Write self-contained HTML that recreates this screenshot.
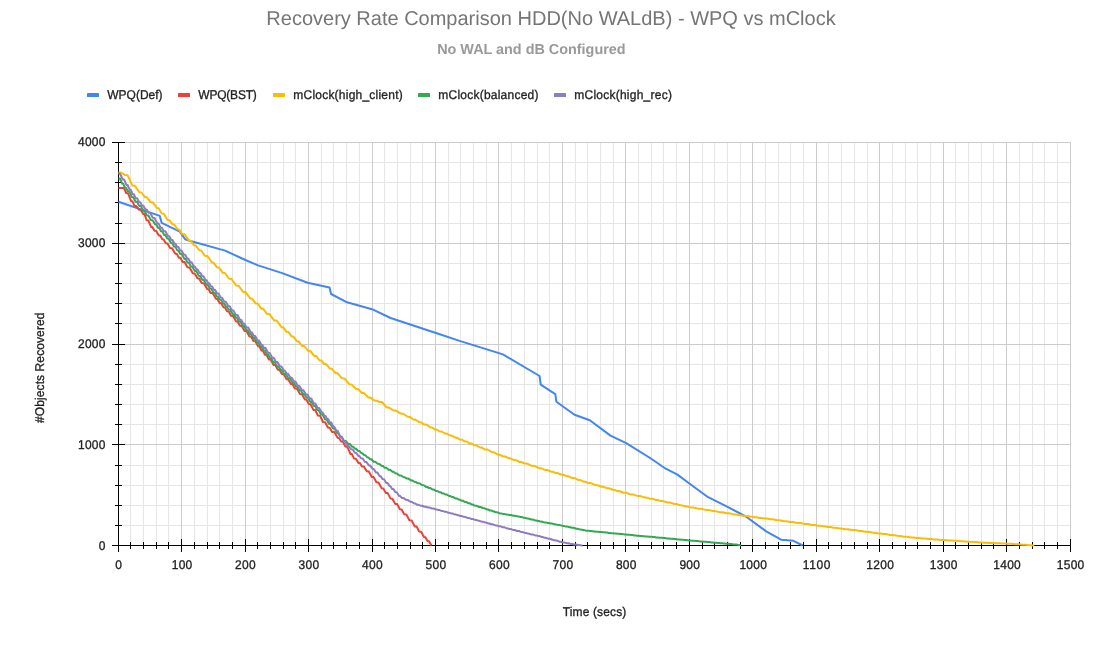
<!DOCTYPE html>
<html><head><meta charset="utf-8"><title>Recovery Rate Comparison</title>
<style>
html,body{margin:0;padding:0;background:#fff;}
svg{display:block;font-family:"Liberation Sans",sans-serif;will-change:transform;text-rendering:geometricPrecision;}
</style></head><body>
<svg width="1100" height="655" viewBox="0 0 1100 655">
<path d="M130.5 142V546M143.5 142V546M156.5 142V546M168.5 142V546M194.5 142V546M207.5 142V546M219.5 142V546M232.5 142V546M257.5 142V546M270.5 142V546M283.5 142V546M295.5 142V546M321.5 142V546M333.5 142V546M346.5 142V546M359.5 142V546M384.5 142V546M397.5 142V546M410.5 142V546M422.5 142V546M448.5 142V546M460.5 142V546M473.5 142V546M486.5 142V546M511.5 142V546M524.5 142V546M537.5 142V546M549.5 142V546M575.5 142V546M587.5 142V546M600.5 142V546M613.5 142V546M638.5 142V546M651.5 142V546M663.5 142V546M676.5 142V546M702.5 142V546M714.5 142V546M727.5 142V546M740.5 142V546M765.5 142V546M778.5 142V546M790.5 142V546M803.5 142V546M828.5 142V546M841.5 142V546M854.5 142V546M867.5 142V546M892.5 142V546M905.5 142V546M917.5 142V546M930.5 142V546M955.5 142V546M968.5 142V546M981.5 142V546M993.5 142V546M1019.5 142V546M1032.5 142V546M1044.5 142V546M1057.5 142V546M118 525.5H1071M118 505.5H1071M118 485.5H1071M118 465.5H1071M118 424.5H1071M118 404.5H1071M118 384.5H1071M118 364.5H1071M118 323.5H1071M118 303.5H1071M118 283.5H1071M118 263.5H1071M118 223.5H1071M118 202.5H1071M118 182.5H1071M118 162.5H1071" stroke="#e6e6e6" stroke-width="1" fill="none"/>
<path d="M181.5 142V546M245.5 142V546M308.5 142V546M372.5 142V546M435.5 142V546M498.5 142V546M562.5 142V546M625.5 142V546M689.5 142V546M752.5 142V546M816.5 142V546M879.5 142V546M943.5 142V546M1006.5 142V546M1070.5 142V546M118 444.5H1071M118 344.5H1071M118 243.5H1071M118 142.5H1071" stroke="#cccccc" stroke-width="1" fill="none"/>
<path d="M118.5 142V552M112 545.5H1071M130.5 542V549M143.5 542V549M156.5 542V549M168.5 542V549M181.5 539V552M194.5 542V549M207.5 542V549M219.5 542V549M232.5 542V549M245.5 539V552M257.5 542V549M270.5 542V549M283.5 542V549M295.5 542V549M308.5 539V552M321.5 542V549M333.5 542V549M346.5 542V549M359.5 542V549M372.5 539V552M384.5 542V549M397.5 542V549M410.5 542V549M422.5 542V549M435.5 539V552M448.5 542V549M460.5 542V549M473.5 542V549M486.5 542V549M498.5 539V552M511.5 542V549M524.5 542V549M537.5 542V549M549.5 542V549M562.5 539V552M575.5 542V549M587.5 542V549M600.5 542V549M613.5 542V549M625.5 539V552M638.5 542V549M651.5 542V549M663.5 542V549M676.5 542V549M689.5 539V552M702.5 542V549M714.5 542V549M727.5 542V549M740.5 542V549M752.5 539V552M765.5 542V549M778.5 542V549M790.5 542V549M803.5 542V549M816.5 539V552M828.5 542V549M841.5 542V549M854.5 542V549M867.5 542V549M879.5 539V552M892.5 542V549M905.5 542V549M917.5 542V549M930.5 542V549M943.5 539V552M955.5 542V549M968.5 542V549M981.5 542V549M993.5 542V549M1006.5 539V552M1019.5 542V549M1032.5 542V549M1044.5 542V549M1057.5 542V549M1070.5 539V552M115 525.5H122M115 505.5H122M115 485.5H122M115 465.5H122M112 444.5H125M115 424.5H122M115 404.5H122M115 384.5H122M115 364.5H122M112 344.5H125M115 323.5H122M115 303.5H122M115 283.5H122M115 263.5H122M112 243.5H125M115 223.5H122M115 202.5H122M115 182.5H122M115 162.5H122M112 142.5H125" stroke="#000" stroke-width="1" fill="none"/>
<polyline points="118.5,201.7 159.8,215.9 161.7,222.9 179.8,231.7 185.1,239.2 189.6,240.7 225.1,250.6 245.4,260.0 258.1,265.4 282.2,273.1 307.6,282.8 329.5,287.5 331.1,294.0 347.0,302.3 372.0,309.2 390.6,318.0 435.2,332.8 460.4,341.1 502.9,354.4 539.6,376.0 540.7,384.7 555.3,394.1 556.4,401.7 574.5,414.8 589.8,420.3 610.5,435.6 626.2,443.2 650.9,458.5 665.7,468.7 677.5,474.6 689.7,483.7 708.1,497.2 725.1,505.6 745.9,516.5 766.2,531.4 781.1,539.7 793.5,540.8 802.7,545.5" fill="none" stroke="#4285f4" stroke-width="2" stroke-linejoin="round" stroke-linecap="butt"/>
<polyline points="118.5,188.0 120.1,188.0 122.6,188.0 124.0,188.1 126.2,193.0 128.1,193.3 131.0,201.0 132.4,201.2 134.5,205.9 136.3,206.0 139.0,209.7 140.7,209.8 143.2,213.9 144.5,214.1 146.6,220.3 148.4,220.5 151.1,226.9 152.4,227.0 154.5,230.7 156.2,230.9 158.8,235.5 160.2,235.6 162.3,239.3 163.7,239.5 165.8,243.2 167.5,243.4 170.1,248.0 172.1,248.2 175.3,253.7 176.7,253.8 178.9,257.7 180.4,257.8 182.7,261.9 184.6,262.1 187.4,267.2 189.6,267.4 192.8,273.2 194.7,273.4 197.5,278.3 199.1,278.5 201.7,283.0 203.9,283.2 207.2,289.1 208.6,289.2 210.6,292.9 212.7,293.1 215.9,298.8 217.4,298.9 219.8,303.2 221.3,303.3 223.5,307.3 224.9,307.4 227.1,311.3 228.7,311.4 231.1,315.8 233.1,315.9 236.2,321.6 237.7,321.7 240.0,325.8 241.8,325.9 244.6,331.0 246.5,331.1 249.3,336.3 251.0,336.5 253.5,341.0 255.3,341.2 258.1,346.3 259.4,346.4 261.5,350.5 262.9,350.7 265.0,354.8 266.5,354.9 268.8,359.4 270.7,359.6 273.6,365.0 275.3,365.1 277.9,369.7 279.5,369.8 281.9,374.1 283.8,374.3 286.6,379.2 288.3,379.4 290.9,384.0 292.5,384.1 294.9,388.4 296.9,388.6 300.0,394.0 302.0,394.2 304.9,399.4 306.4,399.5 308.8,404.1 310.6,404.3 313.4,409.9 315.2,410.0 317.9,415.5 320.0,415.7 323.1,422.0 325.1,422.2 328.1,427.7 329.7,427.8 332.1,431.9 334.3,432.1 337.6,437.7 339.0,437.9 341.2,441.5 342.9,441.7 345.4,446.6 347.4,446.9 350.4,453.9 351.9,454.1 354.1,458.6 355.9,458.7 358.5,463.0 359.9,463.1 361.9,466.4 363.9,466.5 366.8,471.2 368.8,471.4 371.8,476.9 373.6,477.1 376.4,482.2 378.5,482.4 381.7,488.3 383.3,488.4 385.7,492.9 387.7,493.1 390.6,498.6 392.4,498.7 395.2,503.9 397.1,504.1 399.9,509.2 401.6,509.4 404.2,514.2 406.3,514.4 409.4,520.2 411.6,520.4 414.8,526.5 416.6,526.6 419.2,531.5 421.1,531.7 424.0,537.0 425.4,537.2 427.5,541.0 429.0,541.2 431.4,545.5" fill="none" stroke="#ea4335" stroke-width="2" stroke-linejoin="round" stroke-linecap="butt"/>
<polyline points="118.5,172.4 120.8,172.5 125.0,174.9 127.6,175.3 132.5,185.6 134.9,185.8 139.5,192.3 141.4,192.5 144.9,197.2 146.9,197.3 150.6,202.2 152.8,202.3 157.1,208.1 158.7,208.3 161.7,213.5 163.8,213.7 167.6,220.1 169.4,220.2 172.6,224.4 174.3,224.6 177.5,229.3 179.1,229.4 182.2,234.0 184.6,234.2 189.0,240.6 190.8,240.7 193.9,245.3 195.8,245.4 199.2,250.3 201.2,250.5 204.9,255.8 207.4,256.0 212.1,262.6 213.7,262.8 216.8,267.2 218.9,267.4 222.7,272.8 224.9,273.0 228.9,278.8 231.4,278.9 236.1,285.5 238.5,285.7 243.1,291.9 245.6,292.1 250.2,298.4 252.1,298.6 255.6,303.4 257.6,303.5 261.3,308.7 263.3,308.8 266.9,313.8 269.4,314.0 274.1,320.4 276.7,320.6 281.5,327.2 283.3,327.3 286.5,331.8 288.3,331.9 291.6,336.4 293.4,336.6 296.8,341.2 298.6,341.4 302.0,345.9 304.1,346.0 308.0,350.9 310.2,351.0 314.3,356.0 316.1,356.1 319.6,360.3 321.2,360.4 324.1,364.0 326.2,364.1 329.9,368.7 331.9,368.8 335.6,373.2 337.7,373.3 341.8,378.2 344.4,378.4 349.2,384.2 351.5,384.4 355.8,388.8 357.9,388.9 361.9,393.0 364.1,393.1 368.2,397.4 370.5,397.6 374.8,400.8 376.4,400.8 379.5,402.0 382.0,402.0 386.7,407.6 389.1,407.6 393.6,410.5 396.1,410.6 400.8,413.6 403.2,413.7 407.7,416.8 409.7,416.9 413.4,419.5 415.4,419.6 419.1,422.2 420.8,422.2 423.9,424.4 426.2,424.5 430.4,427.4 432.0,427.5 435.1,429.6 436.7,429.6 439.8,431.5 441.6,431.5 445.0,433.5 446.7,433.6 450.0,435.5 451.9,435.6 455.5,437.7 457.2,437.8 460.2,439.6 461.8,439.7 464.7,441.4 466.5,441.5 469.7,443.4 471.4,443.4 474.5,445.3 476.5,445.4 480.1,447.5 481.8,447.6 484.7,449.4 487.3,449.5 491.9,452.2 494.1,452.3 498.3,454.8 500.0,454.8 503.2,456.5 505.1,456.5 508.5,458.2 510.5,458.3 514.1,460.1 516.1,460.2 519.7,462.0 521.4,462.0 524.6,463.6 527.1,463.6 531.7,465.8 534.3,465.9 539.2,468.2 541.3,468.3 545.1,469.9 547.2,470.0 551.1,471.7 552.8,471.7 555.9,473.1 557.6,473.1 560.7,474.5 562.7,474.5 566.3,476.2 568.1,476.2 571.6,477.9 574.1,477.9 578.6,480.1 580.4,480.1 583.6,481.7 585.2,481.7 588.2,483.1 590.8,483.1 595.6,485.1 597.8,485.2 601.7,486.8 603.5,486.8 606.7,488.2 608.8,488.2 612.9,489.8 614.5,489.9 617.5,491.1 619.6,491.2 623.6,492.8 626.2,492.8 631.0,494.6 633.5,494.6 638.2,496.1 640.5,496.1 644.8,497.5 646.6,497.6 650.1,498.7 652.1,498.7 655.7,499.9 657.5,500.0 660.7,501.0 663.1,501.1 667.6,502.5 669.7,502.5 673.7,503.8 676.1,503.9 680.6,505.3 682.5,505.4 686.1,506.5 687.9,506.6 691.3,507.6 693.7,507.6 698.3,508.7 700.9,508.7 705.8,509.9 708.2,509.9 712.9,511.0 715.3,511.1 719.8,512.2 722.3,512.2 726.8,513.3 729.2,513.3 733.6,514.4 735.4,514.4 738.8,515.2 740.9,515.2 744.8,516.0 746.8,516.0 750.4,516.6 752.0,516.7 755.0,517.2 756.7,517.3 759.6,517.9 761.5,517.9 765.0,518.6 766.9,518.6 770.3,519.3 772.6,519.3 776.9,520.2 779.5,520.2 784.3,521.2 786.4,521.2 790.2,521.9 792.8,522.0 797.5,522.9 800.2,523.0 805.0,523.9 807.6,524.0 812.5,524.9 814.4,524.9 818.1,525.7 819.9,525.7 823.3,526.3 825.1,526.4 828.5,527.0 830.3,527.0 833.6,527.7 835.4,527.7 838.7,528.3 841.0,528.4 845.1,529.2 847.7,529.2 852.4,530.1 854.8,530.1 859.4,531.0 861.5,531.0 865.4,531.8 867.7,531.8 871.9,532.6 874.3,532.7 878.8,533.5 880.5,533.5 883.6,534.1 885.9,534.1 890.1,534.9 892.6,535.0 897.4,535.8 899.8,535.9 904.2,536.7 906.6,536.7 911.0,537.5 913.1,537.5 917.0,538.1 918.8,538.1 922.0,538.5 924.5,538.5 928.9,539.0 930.9,539.0 934.5,539.4 936.9,539.4 941.4,539.9 944.0,539.9 948.9,540.4 950.9,540.4 954.6,540.8 956.6,540.8 960.3,541.2 962.9,541.2 967.7,541.7 970.0,541.7 974.4,542.1 976.2,542.1 979.4,542.5 981.1,542.5 984.3,542.7 986.1,542.7 989.3,542.9 991.8,542.9 996.6,543.2 999.0,543.2 1003.5,543.5 1005.2,543.5 1008.5,543.8 1010.9,543.8 1015.5,544.2 1018.1,544.3 1023.0,544.7 1025.2,544.8 1029.5,545.2 1031.2,545.2 1034.3,545.5" fill="none" stroke="#fbbc04" stroke-width="2" stroke-linejoin="round" stroke-linecap="butt"/>
<polyline points="118.5,178.4 119.9,178.5 122.1,183.5 123.2,183.7 124.9,187.6 126.0,187.7 127.6,191.2 129.3,191.3 131.9,197.0 133.4,197.2 135.6,201.7 137.0,201.8 139.2,205.9 140.9,206.1 143.4,211.1 144.8,211.2 146.8,215.4 148.4,215.5 150.9,220.1 152.6,220.2 155.0,224.2 156.2,224.3 158.0,227.7 159.2,227.8 161.0,231.3 162.3,231.4 164.2,235.0 165.4,235.1 167.2,238.5 168.7,238.7 170.8,242.8 172.1,243.0 173.9,246.5 175.3,246.6 177.3,250.4 178.4,250.5 180.1,253.8 181.8,253.9 184.3,258.7 185.6,258.9 187.5,262.6 188.9,262.7 191.0,266.6 192.4,266.7 194.6,270.9 196.3,271.1 198.8,275.8 200.1,276.0 202.2,279.8 203.8,280.0 206.4,284.7 207.8,284.8 209.9,288.6 211.3,288.7 213.4,292.6 214.8,292.7 216.9,296.6 218.0,296.7 219.6,299.6 220.9,299.7 223.0,303.4 224.2,303.5 225.9,306.7 227.0,306.8 228.5,309.6 230.1,309.8 232.6,314.1 233.7,314.2 235.5,317.5 236.9,317.6 238.9,321.5 240.5,321.6 242.8,326.0 244.2,326.1 246.4,330.1 247.7,330.2 249.6,333.8 251.0,333.9 253.1,337.9 254.5,338.0 256.7,342.0 258.3,342.2 260.7,346.8 261.8,346.9 263.5,350.2 264.9,350.4 267.1,354.7 268.3,354.8 270.1,358.4 271.4,358.6 273.2,362.2 274.8,362.3 277.2,366.4 278.6,366.5 280.7,370.1 282.1,370.2 284.3,374.0 285.9,374.1 288.2,378.2 289.9,378.3 292.5,382.6 293.8,382.8 295.8,386.2 297.3,386.4 299.5,390.2 300.9,390.3 303.0,393.9 304.4,394.0 306.5,397.6 308.1,397.8 310.4,401.9 311.7,402.0 313.8,405.9 315.2,406.1 317.3,410.1 318.7,410.3 320.8,414.2 322.5,414.4 325.0,419.2 326.6,419.4 328.9,423.8 330.5,423.9 333.0,428.5 334.7,428.7 337.3,433.3 338.5,433.5 340.4,436.8 341.8,436.9 344.0,440.8 345.7,440.9 348.2,443.9 349.9,443.9 352.3,446.8 353.4,446.8 355.2,448.8 356.3,448.8 358.0,450.8 359.3,450.9 361.4,453.2 362.5,453.3 364.1,455.1 365.3,455.2 367.2,457.3 368.3,457.4 369.9,459.2 371.4,459.3 373.7,461.7 375.3,461.7 377.7,463.8 379.4,463.9 381.9,466.1 383.0,466.1 384.8,467.7 386.3,467.7 388.6,469.7 390.1,469.8 392.4,471.8 393.5,471.8 395.3,473.3 396.9,473.4 399.4,475.5 401.1,475.5 403.7,477.3 404.9,477.3 406.7,478.6 408.4,478.6 411.0,480.4 412.3,480.4 414.3,481.8 415.7,481.9 417.8,483.3 419.5,483.3 422.1,485.1 423.8,485.2 426.2,486.9 427.4,486.9 429.1,488.1 430.4,488.1 432.5,489.5 433.9,489.6 436.0,491.0 437.3,491.0 439.2,492.2 440.4,492.2 442.2,493.3 443.4,493.4 445.3,494.5 446.9,494.6 449.2,496.0 450.3,496.0 451.9,497.0 453.3,497.1 455.4,498.4 456.8,498.4 458.8,499.6 459.9,499.7 461.5,500.7 462.8,500.7 464.7,501.9 466.2,501.9 468.4,503.3 469.8,503.3 471.9,504.6 473.0,504.6 474.6,505.6 476.4,505.7 479.0,507.0 480.6,507.0 483.0,508.2 484.7,508.3 487.3,509.6 488.4,509.6 490.1,510.5 491.3,510.5 493.2,511.4 494.2,511.5 495.8,512.3 497.4,512.3 499.8,513.4 501.1,513.4 502.9,513.9 504.1,513.9 505.8,514.4 507.1,514.4 509.1,515.0 510.8,515.0 513.3,515.7 514.9,515.7 517.4,516.4 518.6,516.4 520.4,517.0 521.6,517.0 523.3,517.7 525.0,517.7 527.5,518.6 529.0,518.7 531.2,519.5 532.7,519.5 535.0,520.4 536.1,520.4 537.8,521.0 538.9,521.0 540.5,521.6 542.0,521.7 544.3,522.4 545.6,522.4 547.7,523.0 548.8,523.0 550.4,523.5 552.1,523.6 554.7,524.3 556.2,524.4 558.4,525.1 560.0,525.1 562.4,525.8 563.5,525.9 565.2,526.4 566.8,526.4 569.3,527.2 570.4,527.3 572.0,527.8 573.7,527.8 576.1,528.7 577.5,528.7 579.6,529.4 580.8,529.4 582.8,530.0 584.2,530.1 586.3,530.7 588.0,530.7 590.6,531.1 591.8,531.1 593.7,531.4 594.8,531.4 596.5,531.7 597.9,531.7 600.0,532.0 601.3,532.0 603.1,532.3 604.2,532.3 605.9,532.6 607.1,532.6 608.8,532.9 609.9,532.9 611.5,533.2 612.7,533.2 614.5,533.5 615.7,533.5 617.6,533.8 618.9,533.8 620.8,534.1 622.4,534.1 624.7,534.5 626.0,534.5 627.8,534.8 629.2,534.8 631.3,535.1 632.5,535.1 634.3,535.4 635.6,535.4 637.5,535.7 638.6,535.7 640.1,535.9 641.4,535.9 643.2,536.2 644.3,536.2 645.8,536.4 647.4,536.4 649.7,536.8 651.2,536.8 653.3,537.1 654.5,537.1 656.3,537.4 657.6,537.4 659.7,537.7 661.4,537.7 664.0,538.1 665.1,538.1 666.8,538.4 668.4,538.4 670.8,538.7 672.2,538.7 674.2,539.0 675.6,539.0 677.7,539.4 679.3,539.4 681.7,539.7 683.1,539.7 685.0,540.0 686.4,540.0 688.5,540.4 690.1,540.4 692.4,540.7 694.1,540.7 696.7,541.1 698.0,541.1 699.9,541.4 701.5,541.4 704.0,541.7 705.5,541.8 707.8,542.1 709.3,542.1 711.6,542.4 712.9,542.4 714.9,542.7 716.2,542.7 718.1,543.0 719.2,543.0 720.8,543.3 722.0,543.3 723.7,543.5 724.8,543.5 726.4,543.8 728.0,543.8 730.3,544.1 731.5,544.1 733.4,544.4 734.5,544.4 736.3,544.6 737.4,544.7 739.1,545.0 739.9,545.1 741.1,545.5" fill="none" stroke="#34a853" stroke-width="2" stroke-linejoin="round" stroke-linecap="butt"/>
<polyline points="118.5,173.8 120.2,174.0 122.6,179.4 124.2,179.6 126.4,184.9 127.7,185.1 129.5,189.6 130.8,189.7 132.6,194.1 133.8,194.3 135.7,198.1 137.1,198.2 139.1,202.2 140.3,202.3 142.0,205.6 143.4,205.7 145.4,209.4 146.6,209.5 148.5,212.8 150.2,212.9 152.8,217.7 154.5,217.9 157.1,223.3 158.5,223.4 160.7,227.6 161.9,227.7 163.7,231.2 165.4,231.3 168.0,236.2 169.3,236.3 171.2,239.9 172.5,240.0 174.4,243.7 175.5,243.8 177.0,246.7 178.4,246.9 180.3,250.6 181.7,250.7 183.8,254.6 185.2,254.7 187.3,258.7 188.5,258.8 190.2,262.2 191.6,262.3 193.7,266.3 194.8,266.4 196.4,269.3 197.6,269.5 199.4,272.9 200.6,273.1 202.2,276.2 203.5,276.3 205.5,280.1 206.6,280.2 208.2,283.2 209.3,283.3 210.9,286.3 212.1,286.4 214.0,289.9 215.2,290.0 217.1,293.4 218.5,293.5 220.7,297.5 222.1,297.7 224.2,301.6 225.8,301.7 228.2,306.1 229.7,306.2 231.9,310.4 233.5,310.6 235.8,314.9 237.5,315.0 239.9,319.8 241.3,319.9 243.2,323.6 244.5,323.7 246.4,327.4 248.2,327.5 250.8,332.4 251.9,332.6 253.7,335.8 255.2,336.0 257.5,340.4 259.0,340.5 261.3,344.8 262.4,344.9 264.0,347.9 265.6,348.1 268.0,352.7 269.7,352.9 272.2,357.7 273.7,357.8 275.9,362.0 277.5,362.1 279.8,366.2 281.4,366.4 283.9,370.6 285.0,370.7 286.7,373.7 288.1,373.8 290.3,377.5 291.7,377.7 293.8,381.3 295.4,381.5 297.8,385.8 299.4,385.9 301.9,390.1 303.5,390.3 305.9,394.5 307.4,394.6 309.6,398.5 311.2,398.6 313.7,403.2 315.3,403.4 317.5,407.8 319.1,407.9 321.4,412.3 322.6,412.4 324.4,415.8 325.5,415.9 327.1,419.0 328.2,419.1 329.9,422.4 331.2,422.5 333.2,426.5 334.3,426.7 336.0,430.5 337.6,430.7 340.0,436.3 341.5,436.5 343.6,441.5 345.1,441.6 347.3,445.9 348.8,446.0 351.1,449.3 352.6,449.4 354.9,452.8 356.2,452.9 358.3,455.9 359.4,456.0 361.0,458.3 362.6,458.4 365.0,462.0 366.5,462.1 368.9,465.5 370.3,465.6 372.4,468.8 373.8,468.9 375.9,472.4 377.4,472.5 379.7,476.2 380.8,476.3 382.4,479.0 384.0,479.2 386.3,483.0 387.6,483.1 389.4,486.1 390.5,486.2 392.1,488.9 393.4,489.0 395.2,492.1 396.8,492.2 399.1,496.0 400.3,496.1 402.1,498.1 403.7,498.1 406.0,499.8 407.7,499.9 410.3,501.7 411.7,501.8 413.8,503.3 415.1,503.4 417.1,504.8 418.5,504.8 420.5,505.7 422.1,505.8 424.4,506.7 425.9,506.7 428.3,507.6 429.8,507.6 432.0,508.5 433.5,508.5 435.7,509.4 436.8,509.4 438.5,510.1 439.7,510.1 441.4,510.9 442.6,510.9 444.4,511.7 446.0,511.7 448.4,512.8 449.6,512.8 451.5,513.6 452.9,513.6 455.1,514.6 456.2,514.6 457.8,515.3 458.8,515.3 460.5,516.0 461.7,516.0 463.6,516.8 465.1,516.9 467.4,517.9 468.9,517.9 471.2,518.9 472.7,518.9 475.0,519.9 476.2,519.9 478.1,520.7 479.5,520.8 481.6,521.7 483.0,521.7 485.1,522.6 486.4,522.6 488.5,523.5 489.6,523.5 491.3,524.3 493.0,524.3 495.5,525.4 496.7,525.4 498.5,526.2 500.2,526.2 502.8,527.3 504.5,527.3 507.0,528.4 508.1,528.4 509.7,529.1 511.0,529.1 513.1,529.9 514.7,530.0 517.1,531.0 518.9,531.0 521.5,532.1 522.8,532.1 524.9,532.9 526.1,532.9 527.9,533.6 529.1,533.7 530.9,534.4 532.6,534.4 535.2,535.4 536.4,535.4 538.2,536.1 539.6,536.1 541.8,537.0 543.0,537.1 544.7,537.8 546.1,537.8 548.2,538.7 549.9,538.8 552.5,539.8 553.6,539.9 555.3,540.6 557.0,540.6 559.4,541.7 560.8,541.7 562.9,542.5 564.6,542.6 567.1,543.3 568.6,543.3 570.9,544.0 572.1,544.0 573.9,544.5 575.6,544.6 578.1,545.0 579.5,545.1 581.6,545.4 581.9,545.4 582.4,545.5" fill="none" stroke="#8e7cc3" stroke-width="2" stroke-linejoin="round" stroke-linecap="butt"/>
<rect x="87" y="93" width="12" height="4" rx="0.6" fill="#4285f4"/>
<rect x="178" y="93" width="12" height="4" rx="0.6" fill="#ea4335"/>
<rect x="273" y="93" width="12" height="4" rx="0.6" fill="#fbbc04"/>
<rect x="418" y="93" width="12" height="4" rx="0.6" fill="#34a853"/>
<rect x="554" y="93" width="12" height="4" rx="0.6" fill="#8e7cc3"/>
<g font-size="12" fill="#222" stroke="#222" stroke-width="0.3"><text transform="translate(118.5 568.8) scale(1 1.06)" text-anchor="middle">0</text><text transform="translate(182.0 568.8) scale(1 1.06)" text-anchor="middle" textLength="20.62" lengthAdjust="spacing">100</text><text transform="translate(245.4 568.8) scale(1 1.06)" text-anchor="middle" textLength="20.62" lengthAdjust="spacing">200</text><text transform="translate(308.9 568.8) scale(1 1.06)" text-anchor="middle" textLength="20.62" lengthAdjust="spacing">300</text><text transform="translate(372.4 568.8) scale(1 1.06)" text-anchor="middle" textLength="20.62" lengthAdjust="spacing">400</text><text transform="translate(435.8 568.8) scale(1 1.06)" text-anchor="middle" textLength="20.62" lengthAdjust="spacing">500</text><text transform="translate(499.3 568.8) scale(1 1.06)" text-anchor="middle" textLength="20.62" lengthAdjust="spacing">600</text><text transform="translate(562.8 568.8) scale(1 1.06)" text-anchor="middle" textLength="20.62" lengthAdjust="spacing">700</text><text transform="translate(626.2 568.8) scale(1 1.06)" text-anchor="middle" textLength="20.62" lengthAdjust="spacing">800</text><text transform="translate(689.7 568.8) scale(1 1.06)" text-anchor="middle" textLength="20.62" lengthAdjust="spacing">900</text><text transform="translate(753.2 568.8) scale(1 1.06)" text-anchor="middle" textLength="27.60" lengthAdjust="spacing">1000</text><text transform="translate(816.6 568.8) scale(1 1.06)" text-anchor="middle" textLength="27.60" lengthAdjust="spacing">1100</text><text transform="translate(880.1 568.8) scale(1 1.06)" text-anchor="middle" textLength="27.60" lengthAdjust="spacing">1200</text><text transform="translate(943.6 568.8) scale(1 1.06)" text-anchor="middle" textLength="27.60" lengthAdjust="spacing">1300</text><text transform="translate(1007.0 568.8) scale(1 1.06)" text-anchor="middle" textLength="27.60" lengthAdjust="spacing">1400</text><text transform="translate(1070.5 568.8) scale(1 1.06)" text-anchor="middle" textLength="27.60" lengthAdjust="spacing">1500</text><text transform="translate(105.5 549.7) scale(1 1.06)" text-anchor="end">0</text><text transform="translate(105.5 448.95) scale(1 1.06)" text-anchor="end" textLength="27.60" lengthAdjust="spacing">1000</text><text transform="translate(105.5 348.2) scale(1 1.06)" text-anchor="end" textLength="27.60" lengthAdjust="spacing">2000</text><text transform="translate(105.5 247.0) scale(1 1.06)" text-anchor="end" textLength="27.60" lengthAdjust="spacing">3000</text><text transform="translate(105.5 145.9) scale(1 1.06)" text-anchor="end" textLength="27.60" lengthAdjust="spacing">4000</text><text transform="translate(594.5 616) scale(1 1.06)" text-anchor="middle" textLength="63.5" lengthAdjust="spacing">Time (secs)</text><text transform="translate(43.5 367.75) rotate(-90) scale(1 1.06)" text-anchor="middle" textLength="110.4" lengthAdjust="spacing">#Objects Recovered</text><text transform="translate(107.3 98.7) scale(1 1.06)" textLength="55.3" lengthAdjust="spacing">WPQ(Def)</text><text transform="translate(198.3 98.7) scale(1 1.06)" textLength="58.5" lengthAdjust="spacing">WPQ(BST)</text><text transform="translate(293.3 98.7) scale(1 1.06)" textLength="109.4" lengthAdjust="spacing">mClock(high_client)</text><text transform="translate(438.3 98.7) scale(1 1.06)" textLength="100.2" lengthAdjust="spacing">mClock(balanced)</text><text transform="translate(574.3 98.7) scale(1 1.06)" textLength="97.6" lengthAdjust="spacing">mClock(high_rec)</text></g>
<text x="551" y="24.5" text-anchor="middle" font-size="20" fill="#757575">Recovery Rate Comparison HDD(No WALdB) - WPQ vs mClock</text>
<text x="531.4" y="53.8" text-anchor="middle" font-size="14.4" font-weight="bold" fill="#999999">No WAL and dB Configured</text>
</svg>
</body></html>
